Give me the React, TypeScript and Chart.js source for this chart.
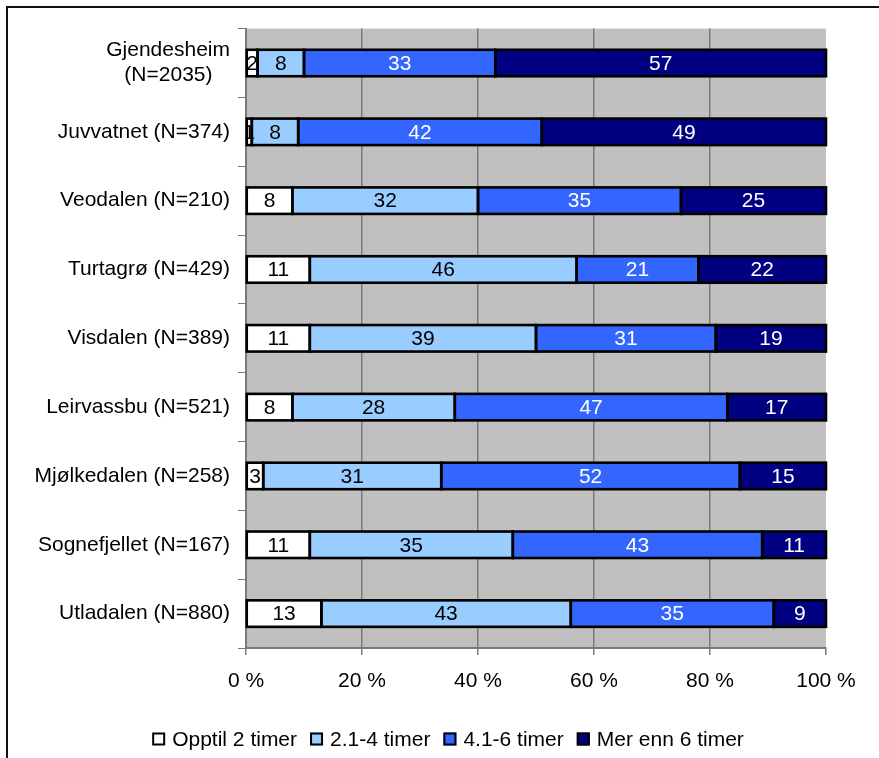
import React, { useEffect, useRef } from "react";
import { Chart, registerables } from "chart.js";

Chart.register(...registerables);

// ---- data ----
const categories: (string | string[])[] = [
  ["Gjendesheim", "(N=2035)   "],
  "Juvvatnet (N=374)",
  "Veodalen (N=210)",
  "Turtagrø (N=429)",
  "Visdalen (N=389)",
  "Leirvassbu (N=521)",
  "Mjølkedalen (N=258)",
  "Sognefjellet (N=167)",
  "Utladalen (N=880)",
];
const seriesNames = ["Opptil 2 timer", "2.1-4 timer", "4.1-6 timer", "Mer enn 6 timer"];
const opptil2 = [2, 1, 8, 11, 11, 8, 3, 11, 13];
const t2to4 = [8, 8, 32, 46, 39, 28, 31, 35, 43];
const t4to6 = [33, 42, 35, 21, 31, 47, 52, 43, 35];
const over6 = [57, 49, 25, 22, 19, 17, 15, 11, 9];
const xTickValues = [0, 20, 40, 60, 80, 100];

const seriesValues = [opptil2, t2to4, t4to6, over6];
const fillColors = ["#FFFFFF", "#99CCFF", "#3366FF", "#000080"];
const labelColors = ["#000000", "#000000", "#FFFFFF", "#FFFFFF"];

const FONT = '"Liberation Sans", Arial, Helvetica, sans-serif';
const FS = 21;

export default function App() {
  const ref = useRef<HTMLCanvasElement | null>(null);

  useEffect(() => {
    if (!ref.current) return;
    const rowSums = categories.map((_, j) =>
      seriesValues.reduce((s, arr) => s + arr[j], 0)
    );

    const bgPlugin = {
      id: "plotBg",
      beforeDraw(chart: any) {
        const { ctx, chartArea } = chart;
        ctx.save();
        ctx.fillStyle = "#C0C0C0";
        ctx.fillRect(
          chartArea.left,
          chartArea.top,
          chartArea.right - chartArea.left,
          chartArea.bottom - chartArea.top
        );
        ctx.restore();
      },
    };

    const labelPlugin = {
      id: "barLabels",
      afterDatasetsDraw(chart: any) {
        const { ctx } = chart;
        ctx.save();
        // outlines centred on segment edges
        ctx.lineWidth = 2.6;
        ctx.strokeStyle = "#000";
        chart.data.datasets.forEach((_ds: any, i: number) => {
          const meta = chart.getDatasetMeta(i);
          meta.data.forEach((el: any) => {
            const p = el.getProps(["x", "y", "base", "height"], true);
            const x0 = Math.min(p.x, p.base);
            const w = Math.abs(p.x - p.base);
            ctx.strokeRect(x0, p.y - p.height / 2, w, p.height);
          });
        });
        ctx.font = `${FS}px ${FONT}`;
        ctx.textAlign = "center";
        ctx.textBaseline = "middle";
        chart.data.datasets.forEach((ds: any, i: number) => {
          const meta = chart.getDatasetMeta(i);
          meta.data.forEach((el: any, j: number) => {
            const p = el.getProps(["x", "y", "base"], true);
            const cx = (p.x + p.base) / 2;
            ctx.fillStyle = labelColors[i];
            ctx.fillText(String(ds.rawValues[j]), cx, p.y + 1);
          });
        });
        ctx.restore();
      },
    };

    const legendPlugin = {
      id: "customLegend",
      afterDraw(chart: any) {
        const { ctx } = chart;
        ctx.save();
        ctx.font = `${FS}px ${FONT}`;
        const box = 13;
        const gap = 7;
        const spacing = 13;
        const widths = seriesNames.map((n) => box + gap + ctx.measureText(n).width);
        const total = widths.reduce((a, b) => a + b, 0) + spacing * (seriesNames.length - 1);
        const cx = 440;
        const cy = 731;
        let x = cx - total / 2;
        seriesNames.forEach((n, i) => {
          ctx.fillStyle = fillColors[i];
          ctx.fillRect(x, cy - box / 2, box, box);
          ctx.lineWidth = 2;
          ctx.strokeStyle = "#000";
          ctx.strokeRect(x + 1, cy - box / 2 + 1, box - 2, box - 2);
          ctx.fillStyle = "#000";
          ctx.textAlign = "left";
          ctx.textBaseline = "middle";
          ctx.fillText(n, x + box + gap, cy + 1);
          x += widths[i] + spacing;
        });
        ctx.restore();
      },
    };

    const chart = new Chart(ref.current, {
      type: "bar",
      data: {
        labels: categories,
        datasets: seriesNames.map((name, i) => ({
          label: name,
          data: seriesValues[i].map((v, j) => (v / rowSums[j]) * 100),
          rawValues: seriesValues[i],
          backgroundColor: fillColors[i],
          borderWidth: 0,
          inflateAmount: 0,
          barPercentage: 0.385,
          categoryPercentage: 1.0,
        })) as any,
      },
      options: {
        indexAxis: "y",
        responsive: false,
        animation: false,
        devicePixelRatio: 1,
        layout: { padding: { left: 0, top: 19, right: 53, bottom: 0 } },
        plugins: {
          legend: { display: false },
          tooltip: { enabled: false },
        },
        scales: {
          x: {
            stacked: true,
            min: 0,
            max: 100,
            afterBuildTicks(scale: any) {
              scale.ticks = xTickValues.map((v) => ({ value: v }));
            },
            afterFit(scale: any) {
              scale.height = 110;
            },
            grid: {
              color: (c: any) => (c.tick && c.tick.value === 100 ? "rgba(0,0,0,0)" : "#7A7A7A"),
              tickColor: "#7A7A7A",
              lineWidth: 1.5,
              tickLength: 7,
              drawOnChartArea: true,
            },
            border: { display: true, color: "#7A7A7A", width: 2 },
            ticks: {
              color: "#000",
              font: { family: FONT, size: FS },
              padding: 14,
              maxRotation: 0,
              callback: (v: any) => `${v} %`,
            },
          },
          y: {
            stacked: true,
            afterFit(scale: any) {
              scale.width = 238;
            },
            grid: {
              drawOnChartArea: false,
              tickColor: "#7A7A7A",
              tickLength: 8,
              offset: true,
            },
            border: { display: true, color: "#7A7A7A", width: 2 },
            ticks: {
              color: "#000",
              font: { family: FONT, size: FS, lineHeight: 1.2 },
              padding: 8,
            },
          },
        },
      } as any,
      plugins: [bgPlugin, labelPlugin, legendPlugin],
    });
    return () => chart.destroy();
  }, []);

  return (
    <div
      style={{
        position: "absolute",
        left: 6,
        top: 6,
        width: 873,
        height: 752,
        boxSizing: "border-box",
        borderLeft: "2px solid #111",
        borderTop: "2px solid #111",
        overflow: "hidden",
      }}
    >
      <canvas ref={ref} width={871} height={750} style={{ display: "block" }} />
    </div>
  );
}
